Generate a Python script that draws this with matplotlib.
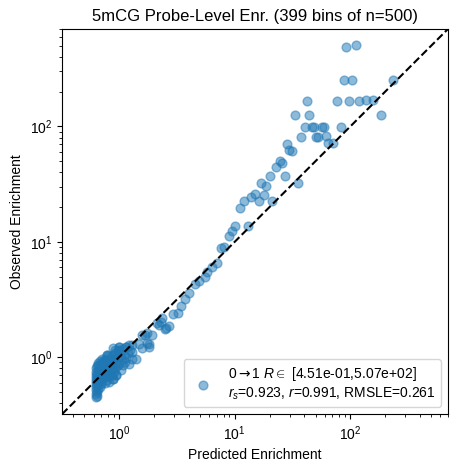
import matplotlib
matplotlib.use("Agg")
import matplotlib.pyplot as plt
import numpy as np

plt.rcParams["font.family"] = ["Liberation Sans", "DejaVu Sans"]
plt.rcParams["mathtext.fontset"] = "custom"
plt.rcParams["mathtext.rm"] = "Liberation Sans"
plt.rcParams["mathtext.it"] = "Liberation Sans:italic"
plt.rcParams["mathtext.sf"] = "DejaVu Sans"

# dense low-enrichment cluster (predicted, observed)
cluster_pred = [
    0.63, 0.64, 0.63, 0.64, 0.63, 0.65, 0.63, 0.64, 0.63, 0.65, 0.63, 0.64,
    0.63, 0.65, 0.63, 0.64, 0.63, 0.65, 0.63, 0.64, 0.65, 0.66, 0.68,
    0.68, 0.69, 0.70, 0.68, 0.71, 0.69, 0.72, 0.70, 0.68, 0.71, 0.73, 0.70,
    0.72, 0.74, 0.71,
    0.76, 0.78, 0.75, 0.80, 0.77, 0.82, 0.78, 0.76, 0.80, 0.83, 0.78, 0.81,
    0.77, 0.84, 0.80, 0.79,
    0.88, 0.86, 0.90, 0.94, 0.87, 0.92, 0.96, 0.88, 0.93, 0.86, 0.90, 0.95,
    0.88, 0.92, 0.97,
    1.03, 1.07, 1.00, 1.12, 1.22, 1.05, 1.15, 1.30, 1.02, 1.10, 1.20, 1.00,
    1.08, 1.00, 1.14, 1.25, 1.39,
    0.94, 0.88, 0.82, 0.79, 0.88, 1.00, 0.77, 1.30, 1.22, 1.59,
]
cluster_obs = [
    0.45, 0.46, 0.48, 0.50, 0.52, 0.53, 0.55, 0.57, 0.59, 0.60, 0.62, 0.64,
    0.66, 0.68, 0.70, 0.72, 0.75, 0.77, 0.80, 0.83, 0.86, 0.89, 0.92,
    0.55, 0.58, 0.61, 0.64, 0.66, 0.69, 0.72, 0.75, 0.78, 0.81, 0.84, 0.87,
    0.90, 0.94, 0.97,
    0.60, 0.63, 0.67, 0.68, 0.71, 0.74, 0.77, 0.80, 0.83, 0.86, 0.89, 0.92,
    0.95, 0.98, 1.02, 1.05,
    0.65, 0.70, 0.74, 0.70, 0.78, 0.80, 0.84, 0.86, 0.90, 0.94, 0.97, 1.00,
    1.04, 1.08, 1.12,
    0.77, 0.85, 0.88, 0.90, 0.88, 0.95, 0.98, 0.97, 1.02, 1.05, 1.08, 1.15,
    1.18, 1.23, 1.23, 1.15, 0.97,
    0.70, 0.65, 0.61, 1.04, 1.19, 1.23, 0.91, 1.11, 1.27, 1.19,
]

# sparser points along the diagonal
tail_pred = [
    0.92, 1.14, 1.30, 1.48, 1.81, 1.59, 1.69, 1.93, 1.74, 1.75, 1.81,
    2.13, 2.28, 2.47, 2.70, 2.53, 2.35, 2.20, 2.90, 3.20, 3.40, 3.70, 4.00,
    4.50, 4.90, 5.50, 5.80, 6.40, 7.00, 7.60, 8.10, 9.00, 9.50, 10.0, 13.1,
    11.1, 12.0, 13.9, 14.9, 16.1, 17.9, 21.1, 17.0, 18.8, 35.3, 20.3, 27.0,
    22.8, 25.6, 24.4, 28.2, 29.5, 31.0, 64.7, 70.5, 37.2, 50.4, 52.8, 61.9,
    40.5, 46.5, 48.4, 56.4, 59.5, 82.6, 33.5, 43.6, 184.6, 41.9, 77.3, 98.0,
    119.0, 138.0, 158.6, 88.3, 103.0, 234.0, 92.0, 111.0,
]
tail_obs = [
    1.15, 1.23, 1.27, 1.29, 1.30, 1.57, 1.57, 1.57, 1.32, 1.61, 1.23,
    1.96, 2.03, 1.75, 1.86, 1.79, 2.17, 1.90, 2.37, 2.40, 2.80, 3.20, 3.60,
    4.30, 4.60, 5.00, 5.50, 6.10, 6.60, 8.90, 9.10, 11.3, 12.5, 13.6, 13.8,
    19.6, 22.4, 24.3, 26.0, 22.6, 25.6, 22.6, 32.4, 30.3, 32.4, 37.5, 37.5,
    44.9, 48.6, 50.3, 71.1, 62.2, 61.7, 71.6, 71.6, 81.8, 81.8, 81.8, 83.0,
    99.4, 99.4, 99.4, 99.0, 99.0, 99.4, 125.0, 125.0, 125.0, 165.0, 165.0, 165.0,
    165.0, 168.0, 168.0, 251.0, 251.0, 253.0, 493.0, 507.0,
]

pred = np.array(cluster_pred + tail_pred)
obs = np.array(cluster_obs + tail_obs)
lims = (0.32, 700)

fig = plt.figure(figsize=(4.59, 4.75), dpi=100)
ax = fig.add_axes([0.135, 0.128, 0.841, 0.811])

label = ("0$\\mathsf{{\\rightarrow}}$1 $R\\in$ [4.51e-01,5.07e+02]\n"
         "$r_s$=0.923, $r$=0.991, RMSLE=0.261")
ax.scatter(pred, obs, s=40, color="C0", alpha=0.5, label=label)
ax.plot(lims, lims, "k--", lw=1.5)
ax.set_xscale("log")
ax.set_yscale("log")
ax.set_xlim(lims)
ax.set_ylim(lims)

ax.set_xlabel("Predicted Enrichment", fontsize=10)
ax.set_ylabel("Observed Enrichment", fontsize=10)
ax.set_title("5mCG Probe-Level Enr. (399 bins of n=500)", fontsize=12)
ax.tick_params(labelsize=10)
ax.legend(loc="lower right", fontsize=10)

fig.savefig("out.png", dpi=100)
